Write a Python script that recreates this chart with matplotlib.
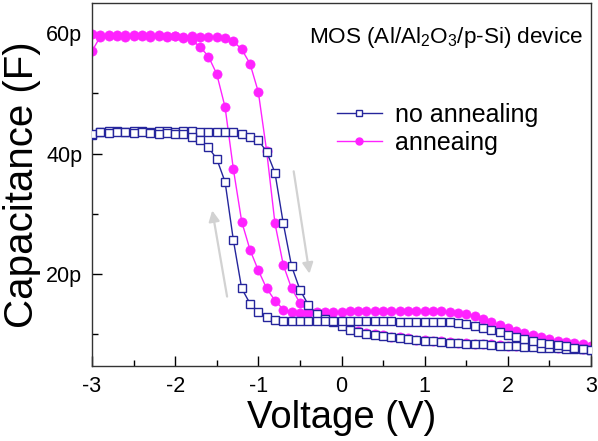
import matplotlib
matplotlib.use("Agg")
import matplotlib.pyplot as plt
from matplotlib.ticker import MultipleLocator, FuncFormatter
from matplotlib.lines import Line2D

plt.rcParams['font.family'] = ['Liberation Sans', 'DejaVu Sans']
plt.rcParams['mathtext.default'] = 'regular'

voltage = [-3.0, -2.9, -2.8, -2.7, -2.6, -2.5, -2.4, -2.3, -2.2, -2.1,
           -2.0, -1.9, -1.8, -1.7, -1.6, -1.5, -1.4, -1.3, -1.2, -1.1,
           -1.0, -0.9, -0.8, -0.7, -0.6, -0.5, -0.4, -0.3, -0.2, -0.1,
           0.0, 0.1, 0.2, 0.3, 0.4, 0.5, 0.6, 0.7, 0.8, 0.9,
           1.0, 1.1, 1.2, 1.3, 1.4, 1.5, 1.6, 1.7, 1.8, 1.9,
           2.0, 2.1, 2.2, 2.3, 2.4, 2.5, 2.6, 2.7, 2.8, 2.9, 3.0]

# no annealing, forward sweep (-3 -> +3), pF
noann_fwd = [43.0, 43.6, 43.7, 43.7, 43.6, 43.7, 43.7, 43.6, 43.7, 43.7,
             43.6, 43.7, 43.7, 43.6, 43.6, 43.6, 43.5, 43.5, 43.3, 42.8,
             42.2, 40.3, 36.8, 28.4, 21.3, 17.4, 14.9, 13.4, 12.6, 12.0,
             11.3, 10.7, 10.3, 10.0, 9.8, 9.7, 9.5, 9.4, 9.2, 9.0,
             8.9, 8.8, 8.7, 8.6, 8.5, 8.4, 8.35, 8.3, 8.2, 8.1,
             8.0, 8.0, 7.9, 7.9, 7.8, 7.8, 7.7, 7.6, 7.6, 7.5, 7.4]
# no annealing, reverse sweep (+3 -> -3), listed on the same voltage grid
noann_rev = [43.2, 43.5, 43.4, 43.5, 43.5, 43.4, 43.5, 43.4, 43.3, 43.4,
             43.3, 43.2, 42.8, 42.2, 41.0, 39.1, 35.3, 25.6, 17.6, 15.1,
             13.7, 12.9, 12.4, 12.2, 12.2, 12.2, 12.2, 12.2, 12.2, 12.2,
             12.2, 12.2, 12.2, 12.2, 12.2, 12.2, 12.2, 12.1, 12.1, 12.1,
             12.1, 12.1, 12.0, 12.0, 11.9, 11.7, 11.3, 11.0, 10.7, 10.3,
             9.9, 9.6, 9.2, 8.9, 8.6, 8.4, 8.2, 8.0, 7.8, 7.6, 7.4]
# annealing, forward sweep
ann_fwd = [57.0, 59.4, 59.5, 59.5, 59.4, 59.5, 59.5, 59.4, 59.5, 59.4,
           59.5, 59.4, 59.5, 59.4, 59.4, 59.4, 59.1, 58.6, 57.3, 54.9,
           50.2, 40.4, 28.4, 21.5, 17.6, 15.2, 13.8, 13.3, 12.9, 12.3,
           11.6, 11.0, 10.6, 10.2, 10.0, 9.8, 9.6, 9.5, 9.3, 9.1,
           9.0, 8.9, 8.8, 8.7, 8.6, 8.5, 8.45, 8.4, 8.3, 8.2,
           8.1, 8.1, 8.0, 8.0, 7.9, 7.9, 7.8, 7.7, 7.7, 7.6, 7.5]
# annealing, reverse sweep
ann_rev = [59.8, 59.6, 59.7, 59.6, 59.6, 59.7, 59.6, 59.6, 59.6, 59.5,
           59.5, 59.2, 58.8, 57.7, 56.1, 53.2, 47.7, 37.4, 28.7, 24.0,
           20.6, 17.6, 15.6, 14.1, 13.7, 13.6, 13.6, 13.7, 13.7, 13.7,
           13.7, 13.8, 13.8, 13.8, 13.8, 13.8, 13.9, 13.9, 13.9, 13.9,
           13.9, 13.8, 13.8, 13.7, 13.6, 13.4, 13.0, 12.5, 12.0, 11.5,
           11.0, 10.6, 10.2, 9.8, 9.5, 9.2, 8.9, 8.7, 8.5, 8.3, 8.1]

xticks = [-3, -2, -1, 0, 1, 2, 3]
yticks = [20, 40, 60]
legend_labels = ['no annealing', 'anneaing']
title_text = r'MOS (Al/Al$_2$O$_3$/p-Si) device'

blue = '#25259c'
pink = '#ff22ff'

fig = plt.figure(figsize=(5.98, 4.41), dpi=100)
ax = fig.add_axes([92/598, 1-366/441, (591-92)/598, (366-3)/441])

for ys in (noann_fwd, noann_rev):
    ax.plot(voltage, ys, color=blue, lw=1.0, marker='s', ms=5.4,
            mfc='white', mec=blue, mew=1.0, zorder=3)
for ys in (ann_fwd, ann_rev):
    ax.plot(voltage, ys, color=pink, lw=1.0, marker='o', ms=6.6,
            mfc=pink, mec=pink, mew=0.5, zorder=2)

# sweep direction arrows
ax.annotate('', xy=(-1.56, 31.0), xytext=(-1.37, 15.8),
            arrowprops=dict(arrowstyle='-|>', color='#d2d2d2', lw=1.6,
                            mutation_scale=16), zorder=1)
ax.annotate('', xy=(-0.38, 19.6), xytext=(-0.58, 37.5),
            arrowprops=dict(arrowstyle='-|>', color='#d2d2d2', lw=1.6,
                            mutation_scale=16), zorder=1)

ax.set_xlim(-3, 3)
ax.set_ylim(4.73, 64.98)
ax.set_xticks(xticks)
ax.set_yticks(yticks)
ax.xaxis.set_minor_locator(MultipleLocator(0.5))
ax.yaxis.set_minor_locator(MultipleLocator(10))
ax.yaxis.set_major_formatter(FuncFormatter(lambda v, p: f'{int(v)}p'))
ax.xaxis.set_major_formatter(FuncFormatter(lambda v, p: f'{int(v)}'))
ax.tick_params(which='major', direction='in', length=7, width=1,
               labelsize=15.5, pad=7)
ax.tick_params(which='minor', direction='in', length=4, width=1)
for s in ax.spines.values():
    s.set_linewidth(1.0)
    s.set_color('#333333')

ax.set_xlabel('Voltage (V)', fontsize=27.5, labelpad=2)
ax.set_ylabel('Capacitance (F)', fontsize=29, labelpad=4)

ax.text(-0.385, 58.3, title_text, fontsize=16.2, ha='left', va='baseline')

handles = [Line2D([], [], color=blue, lw=1.0, marker='s', ms=4,
                  mfc='white', mec=blue),
           Line2D([], [], color=pink, lw=1.0, marker='o', ms=5,
                  mfc=pink, mec=pink)]
ax.legend(handles, legend_labels, loc='upper left',
          bbox_to_anchor=(0.49, 0.725), frameon=False, fontsize=18,
          handlelength=1.8, handletextpad=0.55, labelspacing=0.15,
          borderaxespad=0, borderpad=0)

fig.savefig('out.png', dpi=100)
